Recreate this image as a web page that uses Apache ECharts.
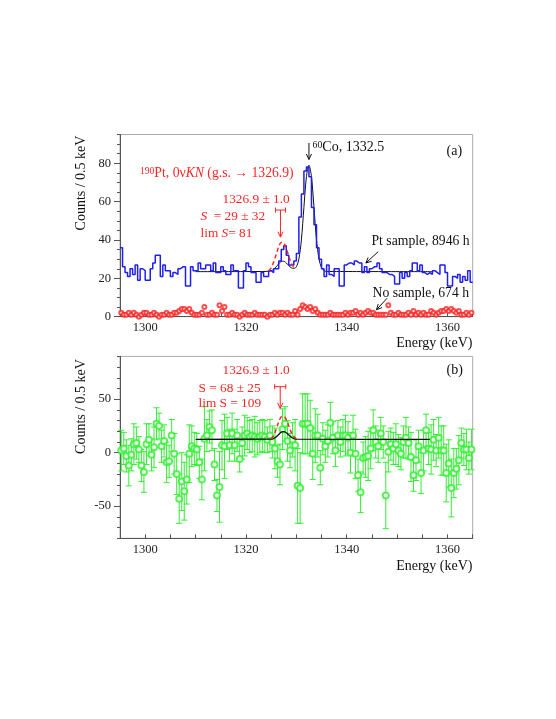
<!DOCTYPE html>
<html>
<head>
<meta charset="utf-8" />
<title>190Pt 0vKN search</title>
<script src="https://cdn.jsdelivr.net/npm/echarts@6/dist/echarts.min.js"></script>
<style>
  html, body { margin: 0; padding: 0; background: #fff; }
  #main { width: 556px; height: 719px; }
</style>
</head>
<body>
<div id="main"></div>
<script type="text/javascript">
// spectra in 0.5 keV bins starting at 1295 keV
var binStart = 1295
var binWidth = 0.5

// (a) Pt sample, 8946 h
var ptCounts = [36,26,23,21,25,22,27,19,25,24,19,19,25,28,32,32,
  21,27,24,24,21,23,22,25,26,26,16,16,26,24,24,28,
  25,25,27,27,24,28,23,23,26,24,22,22,27,24,24,15,
  15,24,28,26,23,23,18,18,23,21,21,24,23,25,25,29,
  35,37,32,27,27,29,33,52,64,76,78,73,57,48,36,30,
  25,21,27,22,21,25,25,16,16,27,28,28,27,29,28,28,
  23,26,23,25,26,26,28,25,23,23,22,22,21,17,17,23,
  20,23,21,24,28,28,24,27,23,22,23,22,24,23,22,27,
  27,23,16,16,21,20,22,18,21,19,24,18]

// (a) no sample, 674 h
var bgCounts = [2,1,1,2,1,2,1,0,1,2,2,1,1,2,1,0,1,1,2,1,
  1,2,2,3,4,4,3,4,2,1,1,1,2,5,1,1,2,1,1,6,
  3,5,1,1,2,1,1,0,1,2,1,1,1,2,1,1,1,1,0,1,
  1,2,1,2,2,1,2,1,1,3,1,4,6,5,4,5,3,4,2,1,
  1,1,1,2,1,1,1,1,1,2,1,2,2,3,1,2,1,2,3,2,
  2,1,1,1,1,1,6,2,1,1,2,1,1,1,2,1,3,1,2,1,
  2,1,1,3,2,1,2,3,3,4,3,4,3,2,3,1,1,2,1,2]

// (b) difference spectrum and its errors
var diffValues = [2,4,-3,-12,-2,8,9,3,-12,-18,8,12,-2,5,27,25,6,11,-9,-8,16,-1,-20,-43,-27,-36,-25,-1,
  6,4,3,-9,-25,13,16,24,21,-11,-40,-32,7,6,18,7,18,7,16,-6,9,16,18,15,16,15,13,15,16,15,12,16,
  10,4,-8,-11,22,27,11,2,12,7,-31,-33,
  27,27,27,23,-1,16,16,-14,13,6,11,28,14,2,16,10,16,16,14,0,16,-1,-21,-37,-5,-4,-3,4,21,10,6,18,10,-40,
  1,8,4,8,2,-1,10,14,9,-4,-21,-7,6,-19,2,21,4,3,12,2,14,2,2,-19,-10,-33,-19,-15,-7,9,3,3,-5,3]
var diffErrors = [19,15,15,19,15,19,15,12,15,19,19,15,15,19,15,12,15,15,19,15,
  15,19,19,23,27,27,23,27,19,15,15,15,19,30,15,15,19,15,15,33,
  23,30,15,15,19,15,15,12,15,19,15,15,15,19,15,15,15,15,12,15,
  15,19,15,19,19,16,19,16,16,24,35,33,28,28,28,26,24,25,20,16,
  15,15,15,19,15,15,14,14,15,19,15,19,19,23,15,19,15,19,23,19,
  19,15,15,15,15,31,19,15,15,19,15,15,15,19,15,23,15,19,15,19,
  19,15,15,23,19,15,19,23,23,27,22,27,23,19,23,14,15,19,15,19]

// fitted curves
var fitAx = [1310,1324,1325,1325.5,1326,1326.5,1327,1327.5,1328,1328.5,1329,1329.5,1330,1330.5,1331,1331.5,1332,1332.5,1333,1333.5,1334,1334.5,1335,1335.5,1336,1357]
var fitAy = [23.5,23.6,24,24.8,26,27.6,28.8,28.9,28,26.6,25.5,25.2,26,30,40,57,73,79,73,57,40,30,25.5,24,23.6,23.5]
var limAx = [1324.5,1325,1325.5,1326,1326.5,1327,1327.5,1328,1328.5,1329,1329.5,1330]
var limAy = [24,25.5,28.5,32.5,36.5,38.7,38.5,35.5,31.5,28,26,26]
var fitBx = [1310,1325,1325.5,1326,1326.5,1327,1327.5,1328,1328.5,1329,1329.5,1330,1356.5]
var fitBy = [12.5,12.7,13.3,14.8,17,19.2,19.7,18.6,16.5,14.5,13.2,12.6,12.5]
var limBx = [1325,1325.5,1326,1326.5,1327,1327.5,1328,1328.5,1329,1329.5,1330]
var limBy = [13,16,22,29,33.5,34,31,25,19,15,13]

// ticks and labels
var xTicks = [1300,1305,1310,1315,1320,1325,1330,1335,1340,1345,1350,1355,1360,1365]
var xLabels = [1300,1320,1340,1360]
var yALabels = [0,20,40,60,80]
var yAMinor = [0,5,10,15,20,25,30,35,40,45,50,55,60,65,70,75,80,85,90,95]
var yBLabels = [-50,0,50]
var yBMinor = [-80,-70,-60,-50,-40,-30,-20,-10,0,10,20,30,40,50,60,70,80,90]

// annotation arrows [x1, y1, x2, y2] (head at x2, y2)
var arrowsA = [[1332.5,90.6,1332.5,82],[1346.25,33.9,1343.8,28],[1348,9.6,1345.9,3.6]]
var redMarkA = [[1325.85,1327.85,55.6,41.5]]
var redMarkB = [[1325.7,1327.9,61.7,41.5]]

var RED = '#ff2424', BLUE = '#1f1ff2', GREEN = '#33ee33'
var FONT = '"Liberation Serif", "Times New Roman", serif'

function steps(vals) {
  var d = []
  for (var i = 0; i < vals.length; i++) d.push([binStart + i * binWidth, vals[i]])
  d.push([binStart + vals.length * binWidth, vals[vals.length - 1]])
  return d
}
function centers(vals) {
  return vals.map(function (v, i) { return [binStart + (i + 0.5) * binWidth, v] })
}
function pairs(xs, ys) {
  return xs.map(function (x, i) { return [x, ys[i]] })
}

function head(b, ang, color) {
  var h = 6, s = 0.45
  return [
    {type: 'line', shape: {x1: b[0], y1: b[1], x2: b[0] - h * Math.cos(ang - s), y2: b[1] - h * Math.sin(ang - s)}, style: {stroke: color, lineWidth: 1}},
    {type: 'line', shape: {x1: b[0], y1: b[1], x2: b[0] - h * Math.cos(ang + s), y2: b[1] - h * Math.sin(ang + s)}, style: {stroke: color, lineWidth: 1}}
  ]
}

function renderArrow(params, api) {
  var a = api.coord([api.value(0), api.value(1)])
  var b = api.coord([api.value(2), api.value(3)])
  var ang = Math.atan2(b[1] - a[1], b[0] - a[0])
  return {type: 'group', children: [
    {type: 'line', shape: {x1: a[0], y1: a[1], x2: b[0], y2: b[1]}, style: {stroke: '#111', lineWidth: 1}}
  ].concat(head(b, ang, '#111'))}
}

function renderMark(params, api) {
  var x1 = api.value(0), x2 = api.value(1), y = api.value(2), tip = api.value(3)
  var l = api.coord([x1, y]), r = api.coord([x2, y])
  var c = api.coord([(x1 + x2) / 2, y]), t = api.coord([(x1 + x2) / 2, tip])
  var st = {stroke: RED, lineWidth: 1}
  return {type: 'group', children: [
    {type: 'line', shape: {x1: l[0], y1: l[1], x2: r[0], y2: r[1]}, style: st},
    {type: 'line', shape: {x1: l[0], y1: l[1] - 2.5, x2: l[0], y2: l[1] + 2.5}, style: st},
    {type: 'line', shape: {x1: r[0], y1: r[1] - 2.5, x2: r[0], y2: r[1] + 2.5}, style: st},
    {type: 'line', shape: {x1: c[0], y1: c[1], x2: t[0], y2: t[1]}, style: st}
  ].concat(head(t, Math.PI / 2, RED))}
}

function renderErr(params, api) {
  var lo = api.coord([api.value(0), api.value(1)])
  var hi = api.coord([api.value(0), api.value(2)])
  var st = {stroke: GREEN, lineWidth: 1}
  return {type: 'group', children: [
    {type: 'line', shape: {x1: lo[0], y1: lo[1], x2: hi[0], y2: hi[1]}, style: st},
    {type: 'line', shape: {x1: lo[0] - 3, y1: lo[1], x2: lo[0] + 3, y2: lo[1]}, style: st},
    {type: 'line', shape: {x1: hi[0] - 3, y1: hi[1], x2: hi[0] + 3, y2: hi[1]}, style: st}
  ]}
}

function xAxisFor(gi) {
  return {
    type: 'value', gridIndex: gi, min: 1295, max: 1365,
    axisLine: {show: true, onZero: false, lineStyle: {color: '#555', width: 1}},
    axisTick: {show: true, inside: true, length: 4, customValues: xTicks, lineStyle: {color: '#555'}},
    axisLabel: {customValues: xLabels, margin: 5, color: '#222', fontFamily: FONT, fontSize: 12.5,
      formatter: function (v) { return String(v) }},
    splitLine: {show: false}
  }
}
function yAxisFor(gi, min, max, labels, minor) {
  return [{
    type: 'value', gridIndex: gi, min: min, max: max, position: 'left',
    axisLine: {show: true, onZero: false, lineStyle: {color: '#555', width: 1}},
    axisTick: {show: true, length: 6, customValues: labels, lineStyle: {color: '#555'}},
    axisLabel: {customValues: labels, margin: 9, color: '#222', fontFamily: FONT, fontSize: 12.5},
    splitLine: {show: false}
  }, {
    type: 'value', gridIndex: gi, min: min, max: max, position: 'left',
    axisLine: {show: false},
    axisTick: {show: true, length: 3, customValues: minor, lineStyle: {color: '#555'}},
    axisLabel: {show: false},
    splitLine: {show: false}
  }]
}

function txt(x, y, text, color, size, extra) {
  var el = {
    type: 'text', x: x, y: y, z: 100,
    style: {
      text: text, fill: color, font: size + 'px ' + FONT,
      align: 'left', textAlign: 'left', verticalAlign: 'middle', textVerticalAlign: 'middle',
      rich: {
        sup: {fontSize: size * 0.7, fontFamily: FONT, fill: color, verticalAlign: 'top'},
        it: {fontSize: size, fontFamily: FONT, fontStyle: 'italic', fill: color}
      }
    }
  }
  if (extra) for (var k in extra) el.style[k] = extra[k]
  return el
}

var yA = yAxisFor(0, 0, 95, yALabels, yAMinor)
var yB = yAxisFor(1, -80, 90, yBLabels, yBMinor)

var option = {
  animation: false,
  backgroundColor: '#fff',
  grid: [
    {left: 120, top: 134.5, width: 352.7, height: 182.2, show: true, borderColor: '#aaa', borderWidth: 1},
    {left: 120, top: 356.4, width: 352.7, height: 181.9, show: true, borderColor: '#aaa', borderWidth: 1}
  ],
  xAxis: [xAxisFor(0), xAxisFor(1)],
  yAxis: [yA[0], yA[1], yB[0], yB[1]],
  series: [
    {type: 'line', xAxisIndex: 0, yAxisIndex: 0, data: pairs(fitAx, fitAy), smooth: 0.3,
      showSymbol: false, lineStyle: {color: '#111', width: 1}, z: 2},
    {type: 'line', xAxisIndex: 0, yAxisIndex: 0, data: steps(ptCounts), step: 'end',
      showSymbol: false, lineStyle: {color: BLUE, width: 1.5}, z: 3},
    {type: 'line', xAxisIndex: 0, yAxisIndex: 0, data: pairs(limAx, limAy), smooth: 0.3,
      showSymbol: false, lineStyle: {color: RED, width: 1.5, type: [4, 3]}, z: 4},
    {type: 'scatter', xAxisIndex: 0, yAxisIndex: 0, data: centers(bgCounts), symbol: 'emptyCircle',
      symbolSize: 4, itemStyle: {color: RED, borderWidth: 0.9}, z: 5},
    {type: 'custom', xAxisIndex: 0, yAxisIndex: 0, data: arrowsA, renderItem: renderArrow, z: 6},
    {type: 'custom', xAxisIndex: 0, yAxisIndex: 0, data: redMarkA, renderItem: renderMark, z: 6},

    {type: 'custom', xAxisIndex: 1, yAxisIndex: 2, renderItem: renderErr, z: 2,
      data: centers(diffValues).map(function (p, i) { return [p[0], p[1] - diffErrors[i], p[1] + diffErrors[i]] })},
    {type: 'scatter', xAxisIndex: 1, yAxisIndex: 2, data: centers(diffValues), symbol: 'emptyCircle',
      symbolSize: 6, itemStyle: {color: GREEN, borderWidth: 1.2}, z: 3},
    {type: 'line', xAxisIndex: 1, yAxisIndex: 2, data: pairs(fitBx, fitBy), smooth: 0.3,
      showSymbol: false, lineStyle: {color: '#111', width: 1.3}, z: 4},
    {type: 'line', xAxisIndex: 1, yAxisIndex: 2, data: pairs(limBx, limBy), smooth: 0.3,
      showSymbol: false, lineStyle: {color: RED, width: 1.5, type: [4, 3]}, z: 5},
    {type: 'custom', xAxisIndex: 1, yAxisIndex: 2, data: redMarkB, renderItem: renderMark, z: 6}
  ],
  graphic: [
    txt(140, 173, '{sup|190}Pt, 0ν{it|KN} (g.s. → 1326.9)', RED, 13.7),
    txt(222.5, 200, '1326.9 ± 1.0', RED, 13.3),
    txt(200.5, 217, '{it|S}  = 29 ± 32', RED, 13.3),
    txt(200.5, 233.3, 'lim {it|S}= 81', RED, 13.3),
    txt(312.5, 147, '{sup|60}Co, 1332.5', '#111', 14),
    txt(446.5, 151.7, '(a)', '#111', 14),
    txt(371.5, 241.7, 'Pt sample, 8946 h', '#111', 13.7),
    txt(372.5, 293.3, 'No sample, 674 h', '#111', 13.7),
    txt(222.5, 370.7, '1326.9 ± 1.0', RED, 13.3),
    txt(198.5, 388.3, 'S = 68 ± 25', RED, 13.3),
    txt(198.5, 403.3, 'lim S = 109', RED, 13.3),
    txt(446.5, 370, '(b)', '#111', 14),
    txt(81.7, 183, 'Counts / 0.5 keV', '#111', 14, {align: 'center', textAlign: 'center'}),
    txt(81.7, 406.5, 'Counts / 0.5 keV', '#111', 14, {align: 'center', textAlign: 'center'}),
    txt(472.5, 343.3, 'Energy (keV)', '#111', 14, {align: 'right', textAlign: 'right'}),
    txt(472.5, 566.7, 'Energy (keV)', '#111', 14, {align: 'right', textAlign: 'right'})
  ]
}
// rotate y titles
option.graphic[12].rotation = Math.PI / 2
option.graphic[13].rotation = Math.PI / 2

var myChart = echarts.init(document.getElementById('main'))
myChart.setOption(option)
</script>
</body>
</html>
